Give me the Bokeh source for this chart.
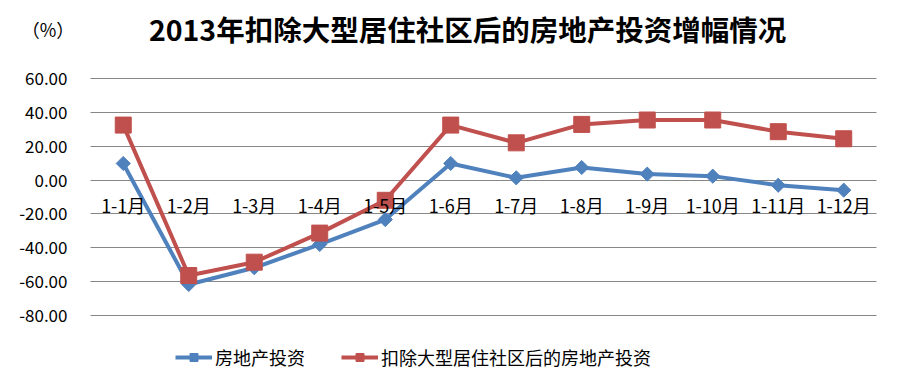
from bokeh.plotting import figure
from bokeh.models import (Range1d, FixedTicker, NumeralTickFormatter,
                          Legend, LegendItem, Label)
from bokeh.embed import file_html
from bokeh.resources import INLINE
import numpy as np

# ---- data ----
months = ["1-1月", "1-2月", "1-3月", "1-4月", "1-5月", "1-6月",
          "1-7月", "1-8月", "1-9月", "1-10月", "1-11月", "1-12月"]
invest = [9.9, -61.7, -51.8, -38.0, -23.3, 9.9, 1.4, 7.5, 3.6, 2.4, -3.0, -5.9]
invest_excl = [32.6, -56.4, -48.5, -31.3, -11.9, 32.6, 22.1, 33.0, 35.6, 35.6, 28.7, 24.5]
y_ticks = [-80, -60, -40, -20, 0, 20, 40, 60]
series_names = ["房地产投资", "扣除大型居住社区后的房地产投资"]
title_text = "2013年扣除大型居住社区后的房地产投资增幅情况"
unit_text = "（%）"

BLUE = "#4F81BD"
RED = "#C0504D"
GRID = "#878787"
CJK = "Noto Sans CJK SC"

xs = list(range(len(months)))

p = figure(width=890, height=380,
           x_range=Range1d(-1.874, 11.714), y_range=Range1d(-118.5, 106.3),
           output_backend="svg", toolbar_location=None,
           min_border_left=0, min_border_top=0, min_border_bottom=0,
           min_border_right=0)
p.outline_line_color = None
p.background_fill_color = "white"
p.border_fill_color = "white"

# grid
p.xgrid.grid_line_color = None
p.ygrid.grid_line_color = GRID
p.ygrid.grid_line_width = 1
p.ygrid.cross_bounds = (-0.5, len(months) - 0.5)

# y axis
p.yaxis.fixed_location = -0.5
p.yaxis.ticker = FixedTicker(ticks=y_ticks)
p.yaxis.formatter = NumeralTickFormatter(format="0.00")
p.yaxis.axis_line_color = None
p.yaxis.major_tick_line_color = None
p.yaxis.minor_tick_line_color = None
p.yaxis.major_tick_out = 0
p.yaxis.major_label_standoff = 23
p.yaxis.major_label_text_font = CJK
p.yaxis.major_label_text_font_size = "17px"
p.yaxis.major_label_text_color = "#000000"

# x axis (category labels)
p.xaxis.fixed_location = 0
p.xaxis.bounds = (-0.5, len(months) - 0.5)
p.xaxis.ticker = FixedTicker(ticks=xs)
p.xaxis.major_label_overrides = {i: m for i, m in zip(xs, months)}
p.xaxis.axis_line_color = None
p.xaxis.major_tick_line_color = None
p.xaxis.minor_tick_line_color = None
p.xaxis.major_tick_out = 0
p.xaxis.major_label_standoff = 12
p.xaxis.major_label_text_font = CJK
p.xaxis.major_label_text_font_size = "18px"
p.xaxis.major_label_text_color = "#000000"

# series
l1 = p.line(xs, invest, line_color=BLUE, line_width=4)
m1 = p.scatter(xs, invest, marker="square", angle=np.pi / 4, size=10,
               fill_color=BLUE, line_color=BLUE)
l2 = p.line(xs, invest_excl, line_color=RED, line_width=4)
m2 = p.scatter(xs, invest_excl, marker="square", size=16,
               fill_color=RED, line_color=RED)

legend = Legend(items=[LegendItem(label=series_names[0], renderers=[l1, m1]),
                       LegendItem(label=series_names[1], renderers=[l2, m2])],
                orientation="horizontal", location=(175, 10),
                glyph_width=37, glyph_height=20, label_standoff=3, spacing=36,
                padding=0, margin=0, border_line_color=None,
                background_fill_alpha=0,
                label_text_font=CJK, label_text_font_size="18px",
                label_text_color="#000000")
p.add_layout(legend)

title = Label(x=5.256, y=89.8, text=title_text, text_align="center",
              text_baseline="middle", text_font=CJK, text_font_size="28.5px",
              text_font_style="bold", text_color="#000000")
unit = Label(x=-1.55, y=89.5, text=unit_text, text_align="left",
             text_baseline="middle", text_font=CJK, text_font_size="18px",
             text_color="#000000")
p.add_layout(title)
p.add_layout(unit)

open("out.html", "w").write(file_html(p, INLINE))
